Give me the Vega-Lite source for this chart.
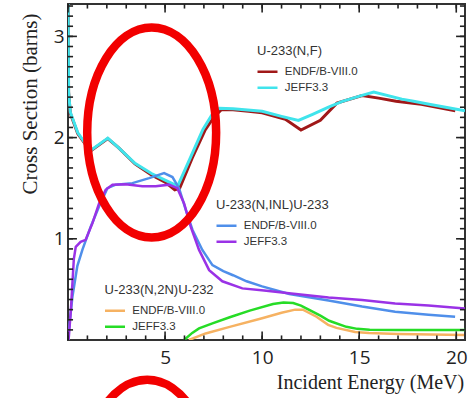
{
  "$schema": "https://vega.github.io/schema/vega-lite/v6.json",
  "width": 397,
  "height": 336,
  "autosize": "none",
  "padding": {"left": 68, "top": 4, "right": 6, "bottom": 58},
  "background": "white",
  "config": {
    "view": {"stroke": "#333", "strokeWidth": 2},
    "legend": {
      "orient": "none",
      "padding": 0,
      "titleFont": "Liberation Sans",
      "titleFontSize": 13,
      "titleFontWeight": "normal",
      "titleColor": "#333",
      "labelFont": "Liberation Sans",
      "labelFontSize": 11.5,
      "labelColor": "#333",
      "symbolType": "M -2.5 0 L 2.5 0",
      "symbolSize": 64,
      "symbolStrokeWidth": 2.5,
      "symbolOffset": 4.75,
      "labelOffset": 11.5,
      "rowPadding": 3,
      "titlePadding": 8
    }
  },
  "datasets": {
    "curves": [
      {"rx": "NF", "lib": "ENDF/B-VIII.0", "e": 0, "xs": 3.6},
      {"rx": "NF", "lib": "ENDF/B-VIII.0", "e": 0.03, "xs": 2.45},
      {"rx": "NF", "lib": "ENDF/B-VIII.0", "e": 0.12, "xs": 2.24},
      {"rx": "NF", "lib": "ENDF/B-VIII.0", "e": 0.5, "xs": 2.04},
      {"rx": "NF", "lib": "ENDF/B-VIII.0", "e": 1.15, "xs": 1.865},
      {"rx": "NF", "lib": "ENDF/B-VIII.0", "e": 2.05, "xs": 1.99},
      {"rx": "NF", "lib": "ENDF/B-VIII.0", "e": 2.6, "xs": 1.9},
      {"rx": "NF", "lib": "ENDF/B-VIII.0", "e": 3.45, "xs": 1.74},
      {"rx": "NF", "lib": "ENDF/B-VIII.0", "e": 4.3, "xs": 1.63},
      {"rx": "NF", "lib": "ENDF/B-VIII.0", "e": 5.0, "xs": 1.56},
      {"rx": "NF", "lib": "ENDF/B-VIII.0", "e": 5.5, "xs": 1.485},
      {"rx": "NF", "lib": "ENDF/B-VIII.0", "e": 5.75, "xs": 1.5},
      {"rx": "NF", "lib": "ENDF/B-VIII.0", "e": 6.4, "xs": 1.8},
      {"rx": "NF", "lib": "ENDF/B-VIII.0", "e": 7.05, "xs": 2.07},
      {"rx": "NF", "lib": "ENDF/B-VIII.0", "e": 7.5, "xs": 2.2},
      {"rx": "NF", "lib": "ENDF/B-VIII.0", "e": 7.9, "xs": 2.275},
      {"rx": "NF", "lib": "ENDF/B-VIII.0", "e": 8.5, "xs": 2.275},
      {"rx": "NF", "lib": "ENDF/B-VIII.0", "e": 9.3, "xs": 2.26},
      {"rx": "NF", "lib": "ENDF/B-VIII.0", "e": 10.0, "xs": 2.245},
      {"rx": "NF", "lib": "ENDF/B-VIII.0", "e": 11.2, "xs": 2.18},
      {"rx": "NF", "lib": "ENDF/B-VIII.0", "e": 12.0, "xs": 2.075},
      {"rx": "NF", "lib": "ENDF/B-VIII.0", "e": 13.0, "xs": 2.17},
      {"rx": "NF", "lib": "ENDF/B-VIII.0", "e": 13.85, "xs": 2.34},
      {"rx": "NF", "lib": "ENDF/B-VIII.0", "e": 15.15, "xs": 2.415},
      {"rx": "NF", "lib": "ENDF/B-VIII.0", "e": 16.0, "xs": 2.39},
      {"rx": "NF", "lib": "ENDF/B-VIII.0", "e": 16.9, "xs": 2.36},
      {"rx": "NF", "lib": "ENDF/B-VIII.0", "e": 18.2, "xs": 2.33},
      {"rx": "NF", "lib": "ENDF/B-VIII.0", "e": 19.95, "xs": 2.265},
      {"rx": "NF", "lib": "JEFF3.3", "e": 0, "xs": 3.6},
      {"rx": "NF", "lib": "JEFF3.3", "e": 0.03, "xs": 2.45},
      {"rx": "NF", "lib": "JEFF3.3", "e": 0.12, "xs": 2.25},
      {"rx": "NF", "lib": "JEFF3.3", "e": 0.5, "xs": 2.05},
      {"rx": "NF", "lib": "JEFF3.3", "e": 1.15, "xs": 1.87},
      {"rx": "NF", "lib": "JEFF3.3", "e": 2.05, "xs": 1.995},
      {"rx": "NF", "lib": "JEFF3.3", "e": 2.6, "xs": 1.9},
      {"rx": "NF", "lib": "JEFF3.3", "e": 3.45, "xs": 1.745},
      {"rx": "NF", "lib": "JEFF3.3", "e": 4.3, "xs": 1.645},
      {"rx": "NF", "lib": "JEFF3.3", "e": 5.0, "xs": 1.58},
      {"rx": "NF", "lib": "JEFF3.3", "e": 5.65, "xs": 1.52},
      {"rx": "NF", "lib": "JEFF3.3", "e": 6.3, "xs": 1.8},
      {"rx": "NF", "lib": "JEFF3.3", "e": 6.95, "xs": 2.08},
      {"rx": "NF", "lib": "JEFF3.3", "e": 7.4, "xs": 2.22},
      {"rx": "NF", "lib": "JEFF3.3", "e": 7.8, "xs": 2.29},
      {"rx": "NF", "lib": "JEFF3.3", "e": 8.5, "xs": 2.285},
      {"rx": "NF", "lib": "JEFF3.3", "e": 10.0, "xs": 2.26},
      {"rx": "NF", "lib": "JEFF3.3", "e": 11.0, "xs": 2.21},
      {"rx": "NF", "lib": "JEFF3.3", "e": 11.87, "xs": 2.17},
      {"rx": "NF", "lib": "JEFF3.3", "e": 12.6, "xs": 2.23},
      {"rx": "NF", "lib": "JEFF3.3", "e": 13.42, "xs": 2.3},
      {"rx": "NF", "lib": "JEFF3.3", "e": 14.1, "xs": 2.355},
      {"rx": "NF", "lib": "JEFF3.3", "e": 15.1, "xs": 2.415},
      {"rx": "NF", "lib": "JEFF3.3", "e": 15.75, "xs": 2.45},
      {"rx": "NF", "lib": "JEFF3.3", "e": 17.2, "xs": 2.38},
      {"rx": "NF", "lib": "JEFF3.3", "e": 17.8, "xs": 2.36},
      {"rx": "NF", "lib": "JEFF3.3", "e": 18.6, "xs": 2.33},
      {"rx": "NF", "lib": "JEFF3.3", "e": 20.45, "xs": 2.265},
      {"rx": "INL", "lib": "ENDF/B-VIII.0", "e": 0, "xs": 0},
      {"rx": "INL", "lib": "ENDF/B-VIII.0", "e": 0.1, "xs": 0.2},
      {"rx": "INL", "lib": "ENDF/B-VIII.0", "e": 0.23, "xs": 0.43},
      {"rx": "INL", "lib": "ENDF/B-VIII.0", "e": 0.48, "xs": 0.73},
      {"rx": "INL", "lib": "ENDF/B-VIII.0", "e": 0.74, "xs": 0.89},
      {"rx": "INL", "lib": "ENDF/B-VIII.0", "e": 1.17, "xs": 1.12},
      {"rx": "INL", "lib": "ENDF/B-VIII.0", "e": 1.6, "xs": 1.32},
      {"rx": "INL", "lib": "ENDF/B-VIII.0", "e": 2.03, "xs": 1.5},
      {"rx": "INL", "lib": "ENDF/B-VIII.0", "e": 2.46, "xs": 1.535},
      {"rx": "INL", "lib": "ENDF/B-VIII.0", "e": 3.32, "xs": 1.55},
      {"rx": "INL", "lib": "ENDF/B-VIII.0", "e": 4.18, "xs": 1.6},
      {"rx": "INL", "lib": "ENDF/B-VIII.0", "e": 4.95, "xs": 1.65},
      {"rx": "INL", "lib": "ENDF/B-VIII.0", "e": 5.38, "xs": 1.61},
      {"rx": "INL", "lib": "ENDF/B-VIII.0", "e": 5.72, "xs": 1.5},
      {"rx": "INL", "lib": "ENDF/B-VIII.0", "e": 6.06, "xs": 1.29},
      {"rx": "INL", "lib": "ENDF/B-VIII.0", "e": 6.41, "xs": 1.09},
      {"rx": "INL", "lib": "ENDF/B-VIII.0", "e": 6.92, "xs": 0.89},
      {"rx": "INL", "lib": "ENDF/B-VIII.0", "e": 7.44, "xs": 0.74},
      {"rx": "INL", "lib": "ENDF/B-VIII.0", "e": 8.0, "xs": 0.68},
      {"rx": "INL", "lib": "ENDF/B-VIII.0", "e": 8.5, "xs": 0.64},
      {"rx": "INL", "lib": "ENDF/B-VIII.0", "e": 9.2, "xs": 0.58},
      {"rx": "INL", "lib": "ENDF/B-VIII.0", "e": 10.0, "xs": 0.53},
      {"rx": "INL", "lib": "ENDF/B-VIII.0", "e": 11.4, "xs": 0.455},
      {"rx": "INL", "lib": "ENDF/B-VIII.0", "e": 13.42, "xs": 0.39},
      {"rx": "INL", "lib": "ENDF/B-VIII.0", "e": 15.15, "xs": 0.33},
      {"rx": "INL", "lib": "ENDF/B-VIII.0", "e": 16.85, "xs": 0.28},
      {"rx": "INL", "lib": "ENDF/B-VIII.0", "e": 18.57, "xs": 0.25},
      {"rx": "INL", "lib": "ENDF/B-VIII.0", "e": 19.94, "xs": 0.23},
      {"rx": "INL", "lib": "JEFF3.3", "e": 0.03, "xs": 0},
      {"rx": "INL", "lib": "JEFF3.3", "e": 0.15, "xs": 0.3},
      {"rx": "INL", "lib": "JEFF3.3", "e": 0.3, "xs": 0.8},
      {"rx": "INL", "lib": "JEFF3.3", "e": 0.4, "xs": 0.92},
      {"rx": "INL", "lib": "JEFF3.3", "e": 0.65, "xs": 0.97},
      {"rx": "INL", "lib": "JEFF3.3", "e": 0.91, "xs": 0.99},
      {"rx": "INL", "lib": "JEFF3.3", "e": 1.26, "xs": 1.155},
      {"rx": "INL", "lib": "JEFF3.3", "e": 1.6, "xs": 1.35},
      {"rx": "INL", "lib": "JEFF3.3", "e": 1.94, "xs": 1.485},
      {"rx": "INL", "lib": "JEFF3.3", "e": 2.29, "xs": 1.535},
      {"rx": "INL", "lib": "JEFF3.3", "e": 2.97, "xs": 1.54},
      {"rx": "INL", "lib": "JEFF3.3", "e": 3.83, "xs": 1.52},
      {"rx": "INL", "lib": "JEFF3.3", "e": 4.52, "xs": 1.52},
      {"rx": "INL", "lib": "JEFF3.3", "e": 5.2, "xs": 1.535},
      {"rx": "INL", "lib": "JEFF3.3", "e": 5.63, "xs": 1.5},
      {"rx": "INL", "lib": "JEFF3.3", "e": 5.98, "xs": 1.35},
      {"rx": "INL", "lib": "JEFF3.3", "e": 6.32, "xs": 1.12},
      {"rx": "INL", "lib": "JEFF3.3", "e": 6.75, "xs": 0.89},
      {"rx": "INL", "lib": "JEFF3.3", "e": 7.27, "xs": 0.69},
      {"rx": "INL", "lib": "JEFF3.3", "e": 7.95, "xs": 0.58},
      {"rx": "INL", "lib": "JEFF3.3", "e": 8.98, "xs": 0.51},
      {"rx": "INL", "lib": "JEFF3.3", "e": 10.1, "xs": 0.49},
      {"rx": "INL", "lib": "JEFF3.3", "e": 11.5, "xs": 0.46},
      {"rx": "INL", "lib": "JEFF3.3", "e": 13.42, "xs": 0.42},
      {"rx": "INL", "lib": "JEFF3.3", "e": 15.15, "xs": 0.395},
      {"rx": "INL", "lib": "JEFF3.3", "e": 16.85, "xs": 0.36},
      {"rx": "INL", "lib": "JEFF3.3", "e": 18.57, "xs": 0.34},
      {"rx": "INL", "lib": "JEFF3.3", "e": 20.45, "xs": 0.31},
      {"rx": "2N", "lib": "ENDF/B-VIII.0", "e": 6.23, "xs": 0},
      {"rx": "2N", "lib": "ENDF/B-VIII.0", "e": 7.09, "xs": 0.065},
      {"rx": "2N", "lib": "ENDF/B-VIII.0", "e": 8.33, "xs": 0.13},
      {"rx": "2N", "lib": "ENDF/B-VIII.0", "e": 10.0, "xs": 0.215},
      {"rx": "2N", "lib": "ENDF/B-VIII.0", "e": 11.0, "xs": 0.27},
      {"rx": "2N", "lib": "ENDF/B-VIII.0", "e": 11.7, "xs": 0.3},
      {"rx": "2N", "lib": "ENDF/B-VIII.0", "e": 12.1, "xs": 0.3},
      {"rx": "2N", "lib": "ENDF/B-VIII.0", "e": 12.8, "xs": 0.23},
      {"rx": "2N", "lib": "ENDF/B-VIII.0", "e": 13.4, "xs": 0.15},
      {"rx": "2N", "lib": "ENDF/B-VIII.0", "e": 13.83, "xs": 0.12},
      {"rx": "2N", "lib": "ENDF/B-VIII.0", "e": 14.79, "xs": 0.08},
      {"rx": "2N", "lib": "ENDF/B-VIII.0", "e": 15.5, "xs": 0.068},
      {"rx": "2N", "lib": "ENDF/B-VIII.0", "e": 17.0, "xs": 0.06},
      {"rx": "2N", "lib": "ENDF/B-VIII.0", "e": 20.4, "xs": 0.05},
      {"rx": "2N", "lib": "JEFF3.3", "e": 5.98, "xs": 0},
      {"rx": "2N", "lib": "JEFF3.3", "e": 6.4, "xs": 0.07},
      {"rx": "2N", "lib": "JEFF3.3", "e": 6.75, "xs": 0.115},
      {"rx": "2N", "lib": "JEFF3.3", "e": 7.44, "xs": 0.165},
      {"rx": "2N", "lib": "JEFF3.3", "e": 8.33, "xs": 0.225},
      {"rx": "2N", "lib": "JEFF3.3", "e": 9.36, "xs": 0.29},
      {"rx": "2N", "lib": "JEFF3.3", "e": 10.56, "xs": 0.355},
      {"rx": "2N", "lib": "JEFF3.3", "e": 11.1, "xs": 0.37},
      {"rx": "2N", "lib": "JEFF3.3", "e": 11.6, "xs": 0.365},
      {"rx": "2N", "lib": "JEFF3.3", "e": 12.0, "xs": 0.34},
      {"rx": "2N", "lib": "JEFF3.3", "e": 12.45, "xs": 0.295},
      {"rx": "2N", "lib": "JEFF3.3", "e": 13.0, "xs": 0.24},
      {"rx": "2N", "lib": "JEFF3.3", "e": 13.45, "xs": 0.19},
      {"rx": "2N", "lib": "JEFF3.3", "e": 14.34, "xs": 0.13},
      {"rx": "2N", "lib": "JEFF3.3", "e": 14.9, "xs": 0.11},
      {"rx": "2N", "lib": "JEFF3.3", "e": 15.54, "xs": 0.102},
      {"rx": "2N", "lib": "JEFF3.3", "e": 17.0, "xs": 0.1},
      {"rx": "2N", "lib": "JEFF3.3", "e": 20.45, "xs": 0.1}
    ],
    "xt": [
      {"t": 0}, {"t": 1}, {"t": 2}, {"t": 3}, {"t": 4}, {"t": 5}, {"t": 6}, {"t": 7}, {"t": 8}, {"t": 9}, {"t": 10},
      {"t": 11}, {"t": 12}, {"t": 13}, {"t": 14}, {"t": 15}, {"t": 16}, {"t": 17}, {"t": 18}, {"t": 19}, {"t": 20}
    ],
    "yt": [
      {"t": 0.1}, {"t": 0.2}, {"t": 0.3}, {"t": 0.4}, {"t": 0.5}, {"t": 0.6}, {"t": 0.7}, {"t": 0.8}, {"t": 0.9}, {"t": 1},
      {"t": 1.1}, {"t": 1.2}, {"t": 1.3}, {"t": 1.4}, {"t": 1.5}, {"t": 1.6}, {"t": 1.7}, {"t": 1.8}, {"t": 1.9}, {"t": 2},
      {"t": 2.1}, {"t": 2.2}, {"t": 2.3}, {"t": 2.4}, {"t": 2.5}, {"t": 2.6}, {"t": 2.7}, {"t": 2.8}, {"t": 2.9}, {"t": 3},
      {"t": 3.1}, {"t": 3.2}, {"t": 3.3}
    ],
    "marks": [
      {"ex": 4.31, "ey": 2.05},
      {"ex": 4.08, "ey": -1.43}
    ]
  },
  "layer": [
    {
      "data": {"name": "curves"},
      "transform": [{"filter": "datum.rx === 'NF'"}],
      "mark": {"type": "line", "strokeWidth": 3, "clip": true},
      "encoding": {
        "x": {
          "field": "e", "type": "quantitative",
          "scale": {"domain": [0, 20.45], "nice": false, "zero": false},
          "axis": {
            "orient": "bottom", "domain": false, "grid": false, "ticks": false,
            "values": [5, 10, 15, 20],
            "labelFont": "Open Sans", "labelFontSize": 19, "labelColor": "#222",
            "labelPadding": 8, "labelOverlap": false, "labelFlush": false,
            "title": "Incident Energy (MeV)",
            "titleFont": "Liberation Serif", "titleFontSize": 20, "titleFontWeight": "normal", "titleColor": "#222",
            "titleX": 302, "titleY": 48, "titleAlign": "center", "titleBaseline": "alphabetic"
          }
        },
        "y": {
          "field": "xs", "type": "quantitative",
          "scale": {"domain": [0, 3.32], "nice": false, "zero": false},
          "axis": {
            "orient": "left", "domain": false, "grid": false, "ticks": false,
            "values": [1, 2, 3], "format": "d",
            "labelFont": "Open Sans", "labelFontSize": 19, "labelColor": "#222",
            "labelPadding": 4, "labelOverlap": false, "labelFlush": false,
            "title": "Cross Section (barns)",
            "titleFont": "Liberation Serif", "titleFontSize": 21, "titleFontWeight": "normal", "titleColor": "#222",
            "titleX": -32, "titleY": 99.5, "titleAngle": 270, "titleAlign": "center", "titleBaseline": "alphabetic"
          }
        },
        "color": {
          "field": "lib", "type": "nominal",
          "scale": {"domain": ["ENDF/B-VIII.0", "JEFF3.3"], "range": ["#a01818", "#40e4ec"]},
          "legend": {"title": "U-233(N,F)", "legendX": 189, "legendY": 41}
        }
      }
    },
    {
      "data": {"name": "curves"},
      "transform": [{"filter": "datum.rx === 'INL'"}],
      "mark": {"type": "line", "strokeWidth": 2.5, "clip": true},
      "encoding": {
        "x": {"field": "e", "type": "quantitative", "scale": {"domain": [0, 20.45], "nice": false, "zero": false}, "axis": null},
        "y": {"field": "xs", "type": "quantitative", "scale": {"domain": [0, 3.32], "nice": false, "zero": false}, "axis": null},
        "color": {
          "field": "lib", "type": "nominal",
          "scale": {"domain": ["ENDF/B-VIII.0", "JEFF3.3"], "range": ["#4f8fea", "#9a32e6"]},
          "legend": {"title": "U-233(N,INL)U-233", "legendX": 148, "legendY": 195}
        }
      }
    },
    {
      "data": {"name": "curves"},
      "transform": [{"filter": "datum.rx === '2N'"}],
      "mark": {"type": "line", "strokeWidth": 2.5, "clip": true},
      "encoding": {
        "x": {"field": "e", "type": "quantitative", "scale": {"domain": [0, 20.45], "nice": false, "zero": false}, "axis": null},
        "y": {"field": "xs", "type": "quantitative", "scale": {"domain": [0, 3.32], "nice": false, "zero": false}, "axis": null},
        "color": {
          "field": "lib", "type": "nominal",
          "scale": {"domain": ["ENDF/B-VIII.0", "JEFF3.3"], "range": ["#f6b262", "#26dc26"]},
          "legend": {"title": "U-233(N,2N)U-232", "legendX": 36.5, "legendY": 280}
        }
      }
    },
    {
      "data": {"name": "xt"},
      "mark": {"type": "rule", "color": "#222", "strokeWidth": 1.6},
      "encoding": {
        "x": {"field": "t", "type": "quantitative", "scale": {"domain": [0, 20.45], "nice": false, "zero": false}, "axis": null},
        "y": {"datum": 0, "type": "quantitative", "scale": {"domain": [0, 3.32], "nice": false, "zero": false}, "axis": null},
        "y2": {"datum": 0.045}
      }
    },
    {
      "data": {"name": "xt"},
      "transform": [{"filter": "datum.t % 5 === 0"}],
      "mark": {"type": "rule", "color": "#222", "strokeWidth": 1.6},
      "encoding": {
        "x": {"field": "t", "type": "quantitative", "scale": {"domain": [0, 20.45], "nice": false, "zero": false}, "axis": null},
        "y": {"datum": 0, "type": "quantitative", "scale": {"domain": [0, 3.32], "nice": false, "zero": false}, "axis": null},
        "y2": {"datum": 0.085}
      }
    },
    {
      "data": {"name": "xt"},
      "mark": {"type": "rule", "color": "#222", "strokeWidth": 1.6},
      "encoding": {
        "x": {"field": "t", "type": "quantitative", "scale": {"domain": [0, 20.45], "nice": false, "zero": false}, "axis": null},
        "y": {"datum": 3.32, "type": "quantitative", "scale": {"domain": [0, 3.32], "nice": false, "zero": false}, "axis": null},
        "y2": {"datum": 3.275}
      }
    },
    {
      "data": {"name": "xt"},
      "transform": [{"filter": "datum.t % 5 === 0"}],
      "mark": {"type": "rule", "color": "#222", "strokeWidth": 1.6},
      "encoding": {
        "x": {"field": "t", "type": "quantitative", "scale": {"domain": [0, 20.45], "nice": false, "zero": false}, "axis": null},
        "y": {"datum": 3.32, "type": "quantitative", "scale": {"domain": [0, 3.32], "nice": false, "zero": false}, "axis": null},
        "y2": {"datum": 3.235}
      }
    },
    {
      "data": {"name": "yt"},
      "mark": {"type": "rule", "color": "#222", "strokeWidth": 1.6},
      "encoding": {
        "y": {"field": "t", "type": "quantitative", "scale": {"domain": [0, 3.32], "nice": false, "zero": false}, "axis": null},
        "x": {"datum": 0, "type": "quantitative", "scale": {"domain": [0, 20.45], "nice": false, "zero": false}, "axis": null},
        "x2": {"datum": 0.26}
      }
    },
    {
      "data": {"name": "yt"},
      "transform": [{"filter": "abs(datum.t - round(datum.t)) < 0.001"}],
      "mark": {"type": "rule", "color": "#222", "strokeWidth": 1.6},
      "encoding": {
        "y": {"field": "t", "type": "quantitative", "scale": {"domain": [0, 3.32], "nice": false, "zero": false}, "axis": null},
        "x": {"datum": 0, "type": "quantitative", "scale": {"domain": [0, 20.45], "nice": false, "zero": false}, "axis": null},
        "x2": {"datum": 0.46}
      }
    },
    {
      "data": {"name": "yt"},
      "mark": {"type": "rule", "color": "#222", "strokeWidth": 1.6},
      "encoding": {
        "y": {"field": "t", "type": "quantitative", "scale": {"domain": [0, 3.32], "nice": false, "zero": false}, "axis": null},
        "x": {"datum": 20.45, "type": "quantitative", "scale": {"domain": [0, 20.45], "nice": false, "zero": false}, "axis": null},
        "x2": {"datum": 20.19}
      }
    },
    {
      "data": {"name": "yt"},
      "transform": [{"filter": "abs(datum.t - round(datum.t)) < 0.001"}],
      "mark": {"type": "rule", "color": "#222", "strokeWidth": 1.6},
      "encoding": {
        "y": {"field": "t", "type": "quantitative", "scale": {"domain": [0, 3.32], "nice": false, "zero": false}, "axis": null},
        "x": {"datum": 20.45, "type": "quantitative", "scale": {"domain": [0, 20.45], "nice": false, "zero": false}, "axis": null},
        "x2": {"datum": 19.99}
      }
    },
    {
      "data": {"name": "marks"},
      "mark": {
        "type": "point",
        "shape": "M 0.614 0 C 0.614 0.5523 0.3391 1 0 1 C -0.3391 1 -0.614 0.5523 -0.614 0 C -0.614 -0.5523 -0.3391 -1 0 -1 C 0.3391 -1 0.614 -0.5523 0.614 0 Z",
        "size": 44100,
        "filled": false,
        "color": "#f20000",
        "strokeWidth": 8.5,
        "opacity": 1,
        "clip": false
      },
      "encoding": {
        "x": {"field": "ex", "type": "quantitative", "scale": {"domain": [0, 20.45], "nice": false, "zero": false}, "axis": null},
        "y": {"field": "ey", "type": "quantitative", "scale": {"domain": [0, 3.32], "nice": false, "zero": false}, "axis": null}
      }
    }
  ],
  "resolve": {
    "scale": {"color": "independent"},
    "axis": {"x": "independent", "y": "independent"}
  }
}
